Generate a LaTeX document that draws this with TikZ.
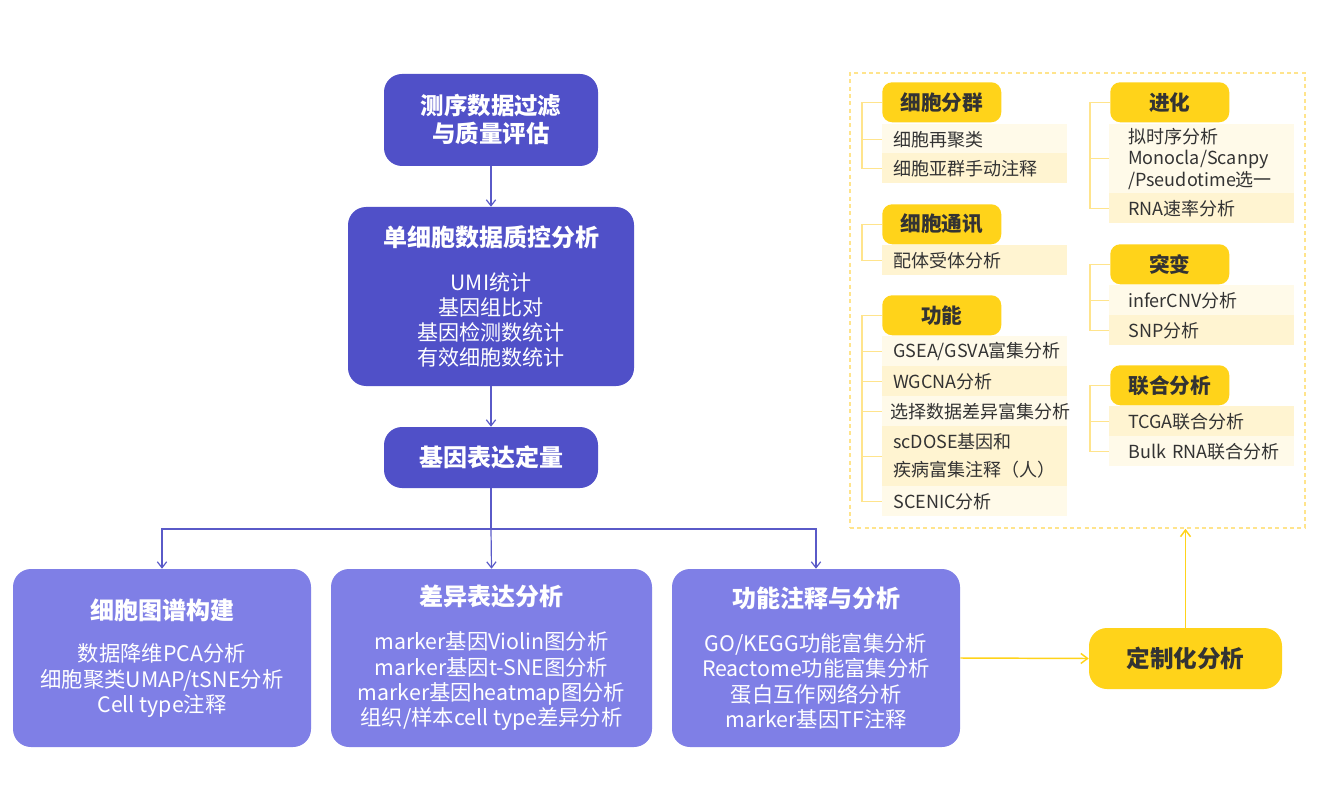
\documentclass[tikz,border=0pt]{standalone}
\usepackage{fontspec}
\setmainfont{Noto Sans CJK SC}
\usetikzlibrary{arrows.meta}
\definecolor{deepblue}{HTML}{5050C8}
\definecolor{softblue}{HTML}{7F7FE6}
\definecolor{arrowblue}{HTML}{5A5AC8}
\definecolor{gold}{HTML}{FFD31A}
\definecolor{paleA}{HTML}{FFFAE9}
\definecolor{paleB}{HTML}{FFF4D1}
\definecolor{linegold}{HTML}{FFE48C}
\definecolor{inktext}{HTML}{333333}
\tikzset{
  mainbox/.style={rectangle, rounded corners=13.5pt, fill=deepblue, text=white, align=center, inner sep=0pt},
  subbox/.style={rectangle, rounded corners=13.5pt, fill=softblue, text=white, align=center, inner sep=0pt,
    minimum height=133.5pt, font=\fontsize{16}{19}\selectfont},
  custombox/.style={rectangle, rounded corners=13.5pt, fill=gold, text=inktext, inner sep=0pt,
    minimum width=144.75pt, minimum height=45.75pt, font=\bfseries\fontsize{17.7}{20}\selectfont},
  panel/.style={rectangle, draw=linegold, line width=1.2pt, dash pattern=on 3pt off 2.5pt,
    minimum width=341.25pt, minimum height=341.25pt},
  tag/.style={rectangle, rounded corners=7.5pt, fill=gold, text=inktext, anchor=north west, inner sep=0pt,
    minimum width=89.25pt, minimum height=30pt, font=\bfseries\fontsize{15.5}{18}\selectfont},
  entry/.style={rectangle, anchor=north west, minimum width=138.75pt, minimum height=22.5pt, inner ysep=0pt,
    text=inktext, align=left, font=\fontsize{13.5}{16}\selectfont},
  entryL/.style={entry, inner xsep=8.25pt, text width=122.25pt},
  entryR/.style={entry, inner xsep=14.25pt, text width=110.25pt},
  flow/.style={draw=arrowblue, line width=0.9pt, -{Straight Barb[length=4.5pt,width=7pt]}},
  goldflow/.style={draw=gold, line width=1.1pt, -{Straight Barb[length=5pt,width=7.5pt]}},
  brace/.style={draw=linegold, line width=1pt},
}
\begin{document}
\begin{tikzpicture}[x=0.75pt,y=-0.75pt]
  \useasboundingbox (0,0) rectangle (1330,802);

  \node[mainbox, minimum width=160.5pt, minimum height=69pt, font=\bfseries\fontsize{17.6}{21}\selectfont]
    (filter) at (491,120) {测序数据过滤\\与质量评估};
  \node[mainbox, minimum width=214.5pt, minimum height=134.25pt, font=\fontsize{15.8}{18.75}\selectfont]
    (qc) at (491,296.5) {{\bfseries\fontsize{18}{18.75}\selectfont 单细胞数据质控分析}\\[14pt]
      UMI统计\\基因组比对\\基因检测数统计\\有效细胞数统计};
  \node[mainbox, minimum width=160.5pt, minimum height=45.75pt, font=\bfseries\fontsize{18}{21}\selectfont]
    (quant) at (491,457.5) {基因表达定量};

  \node[subbox, minimum width=223.5pt] (atlas) at (162,658)
    {{\bfseries\fontsize{18}{19}\selectfont 细胞图谱构建}\\[13pt]
      数据降维PCA分析\\细胞聚类UMAP/tSNE分析\\Cell type注释};
  \node[subbox, minimum width=240.75pt] (diff) at (491.5,658)
    {{\bfseries\fontsize{18}{19}\selectfont 差异表达分析}\\[14pt]
      marker基因Violin图分析\\marker基因t-SNE图分析\\marker基因heatmap图分析\\组织/样本cell type差异分析};
  \node[subbox, minimum width=216pt] (func) at (816,658)
    {{\bfseries\fontsize{18}{19}\selectfont 功能注释与分析}\\[14pt]
      GO/KEGG功能富集分析\\Reactome功能富集分析\\蛋白互作网络分析\\marker基因TF注释};

  \node[custombox] (custom) at (1185.5,658.5) {定制化分析};
  \node[panel] (box) at (1077.5,300.5) {};

  \draw[flow] (filter.south) -- (qc.north);
  \draw[flow] (qc.south) -- (quant.north);
  \coordinate (split) at (491,529);
  \draw[arrowblue, line width=0.9pt] (quant.south) -- (split);
  \draw[flow] (split) -| (atlas.north);
  \draw[flow] (split) -- (diff.north);
  \draw[flow] (split) -| (func.north);
  \draw[goldflow] (func.east) -- (custom.west);
  \draw[goldflow] (custom.north) -- (custom.north |- box.south);

  \node[tag] (tagcluster) at (882,82) {细胞分群};
  \node[entryL, fill=paleA] (recluster) at (882,124) {细胞再聚类};
  \node[entryL, fill=paleB] (manual) at (882,153) {细胞亚群手动注释};

  \node[tag] (tagcomm) at (882,204) {细胞通讯};
  \node[entryL, fill=paleB] (ligand) at (882,245) {配体受体分析};

  \node[tag] (tagfunc) at (882,295) {功能};
  \node[entryL, fill=paleA] (gsea) at (882,336) {GSEA/GSVA富集分析};
  \node[entryL, fill=paleB] (wgcna) at (882,366) {WGCNA分析};
  \node[entryL, fill=paleA, inner xsep=6pt, text width=126.75pt] (select) at (882,396) {选择数据差异富集分析};
  \node[entryL, fill=paleB, minimum height=45pt] (scdose) at (882,426) {scDOSE基因和\\[5pt]疾病富集注释（人）};
  \node[entryL, fill=paleA] (scenic) at (882,486) {SCENIC分析};

  \node[tag] (tagevo) at (1110,82) {进化};
  \node[entryR, fill=paleA, minimum height=51.75pt] (pseudo) at (1109,124)
    {拟时序分析\\Monocla/Scanpy\\/Pseudotime选一};
  \node[entryR, fill=paleB] (velocity) at (1109,193) {RNA速率分析};

  \node[tag] (tagmut) at (1110,244) {突变};
  \node[entryR, fill=paleA] (infercnv) at (1109,285) {inferCNV分析};
  \node[entryR, fill=paleB] (snp) at (1109,315) {SNP分析};

  \node[tag] (tagjoint) at (1110,365) {联合分析};
  \node[entryR, fill=paleB] (tcga) at (1109,406) {TCGA联合分析};
  \node[entryR, fill=paleA] (bulk) at (1109,436) {Bulk~RNA联合分析};

  \draw[brace] (tagcluster.west) -- ++(-20,0) |- (manual.west);
  \draw[brace] (recluster.west) -- ++(-20,0);
  \draw[brace] (tagcomm.west) -- ++(-20,0) |- (ligand.west);
  \draw[brace] (tagfunc.west) -- ++(-20,0) |- (scenic.west);
  \draw[brace] (gsea.west) -- ++(-20,0);
  \draw[brace] (wgcna.west) -- ++(-20,0);
  \draw[brace] (select.west) -- ++(-20,0);
  \draw[brace] (scdose.west) -- ++(-20,0);
  \draw[brace] (tagevo.west) -- ++(-20,0) |- (velocity.west);
  \draw[brace] (pseudo.west) -- ++(-20,0);
  \draw[brace] (tagmut.west) -- ++(-20,0) |- (snp.west);
  \draw[brace] (infercnv.west) -- ++(-20,0);
  \draw[brace] (tagjoint.west) -- ++(-20,0) |- (bulk.west);
  \draw[brace] (tcga.west) -- ++(-20,0);
\end{tikzpicture}
\end{document}
